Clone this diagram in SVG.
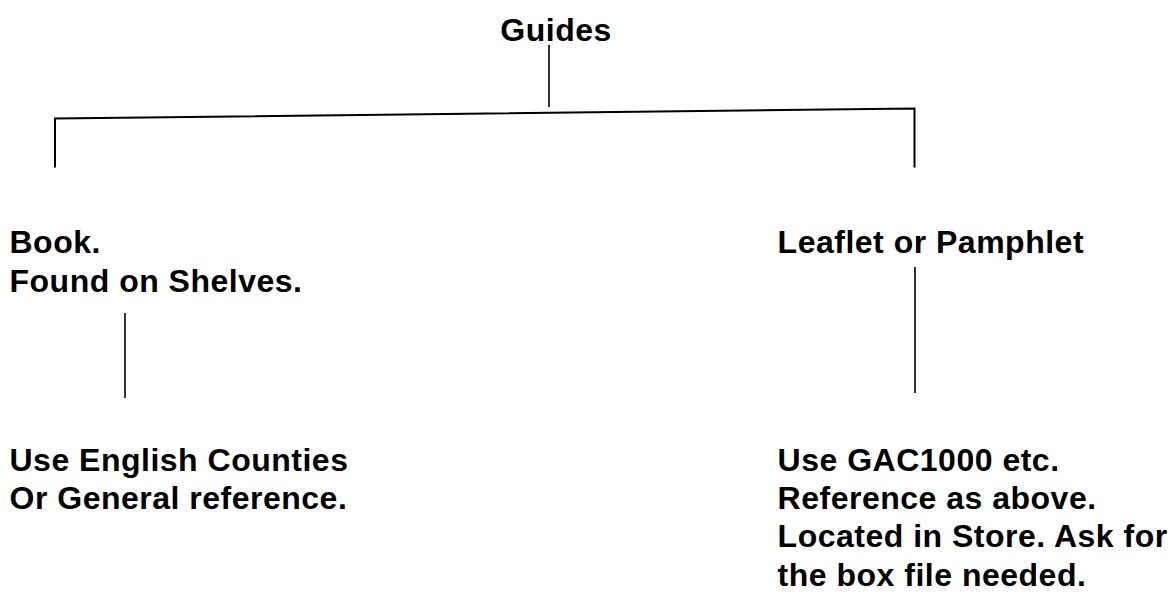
<svg xmlns="http://www.w3.org/2000/svg" width="1171" height="592" viewBox="0 0 1171 592">
<style>
  text { font-family: "Liberation Sans", Arial, sans-serif; font-weight: bold; font-size: 32px; letter-spacing: 0.5px; fill: #000; }
  .ln { stroke: #000; stroke-width: 1.6; fill: none; }
  .bar { stroke: #000; stroke-width: 2; fill: none; }
</style>
<rect width="1171" height="592" fill="#fff"/>
<g id="connectors">
  <line class="ln" x1="549" y1="45" x2="549" y2="107"/>
  <polyline class="bar" points="55,167.5 55,118.5 914.5,108.5 914.5,167.5"/>
  <line class="ln" x1="125" y1="313" x2="125" y2="398"/>
  <line class="ln" x1="915" y1="267" x2="915" y2="393"/>
</g>
<g id="guides">
  <text x="500.3" y="41">Guides</text>
</g>
<g id="book">
  <text x="9.5" y="253">Book.</text>
  <text x="9.5" y="292">Found on Shelves.</text>
</g>
<g id="leaflet">
  <text x="777.6" y="253">Leaflet or Pamphlet</text>
</g>
<g id="counties">
  <text x="9.5" y="471">Use English Counties</text>
  <text x="9.5" y="509">Or General reference.</text>
</g>
<g id="gac">
  <text x="777.6" y="471">Use GAC1000 etc.</text>
  <text x="777.6" y="509">Reference as above.</text>
  <text x="777.6" y="547">Located in Store. Ask for</text>
  <text x="777.6" y="585.5">the box file needed.</text>
</g>
</svg>
